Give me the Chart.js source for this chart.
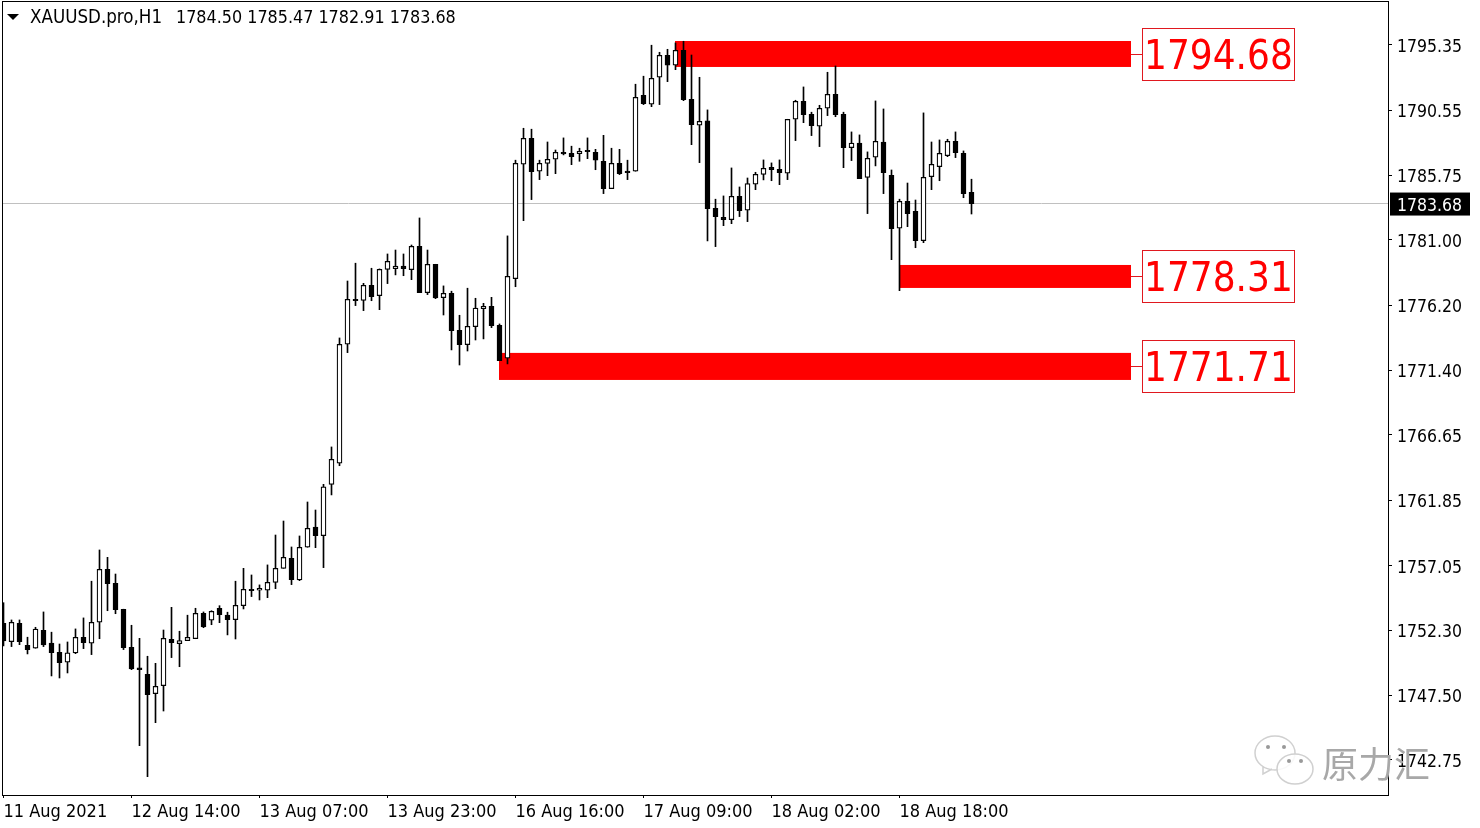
<!DOCTYPE html>
<html>
<head>
<meta charset="utf-8">
<title>XAUUSD.pro,H1</title>
<script src="https://cdn.jsdelivr.net/npm/chart.js@4/dist/chart.umd.min.js"></script>
<style>
  html, body { margin: 0; padding: 0; background: #fff; }
  canvas { display: block; }
</style>
</head>
<body>
<canvas id="chart" width="1480" height="828"></canvas>
<script>
const open = [1752.80,1751.44,1752.80,1751.18,1750.96,1752.28,1751.33,1750.66,1749.93,1750.61,1751.77,1751.33,1752.87,1756.77,1755.74,1753.83,1751.03,1749.51,1749.04,1747.62,1748.21,1751.62,1751.30,1751.52,1751.66,1753.53,1753.02,1753.90,1753.39,1753.06,1754.09,1755.30,1755.23,1755.23,1755.81,1756.84,1757.58,1755.98,1758.39,1759.88,1759.24,1763.02,1764.57,1773.33,1776.64,1776.56,1777.67,1776.90,1778.84,1778.89,1779.07,1778.82,1780.54,1777.12,1779.21,1776.76,1777.08,1774.36,1773.30,1774.62,1775.95,1776.12,1774.72,1772.30,1778.15,1786.57,1788.48,1786.06,1786.64,1786.94,1787.45,1787.38,1787.35,1787.60,1787.45,1786.79,1784.78,1786.64,1786.06,1786.06,1791.65,1790.99,1792.97,1794.59,1793.86,1794.96,1791.35,1789.44,1789.76,1783.33,1782.67,1782.49,1784.22,1783.19,1785.10,1785.83,1786.35,1786.20,1785.91,1789.88,1791.21,1790.25,1789.37,1790.69,1791.72,1790.25,1787.79,1788.12,1785.61,1787.09,1788.21,1785.76,1781.86,1783.85,1783.11,1780.95,1785.66,1786.39,1787.20,1788.26,1787.38,1784.50];
const high = [1754.31,1753.04,1753.04,1751.77,1752.50,1753.63,1752.14,1751.27,1751.42,1752.38,1753.19,1755.89,1758.19,1757.65,1756.42,1753.83,1752.65,1751.69,1750.37,1749.85,1752.30,1753.97,1752.21,1753.39,1753.90,1753.63,1753.72,1754.09,1753.61,1755.89,1756.84,1756.35,1755.62,1757.09,1759.29,1760.32,1758.41,1759.22,1761.72,1761.13,1763.02,1765.77,1773.79,1777.98,1779.29,1777.81,1778.92,1778.87,1779.97,1780.26,1779.97,1780.63,1782.62,1780.26,1779.21,1777.62,1777.23,1775.46,1777.45,1776.71,1776.34,1776.78,1774.82,1781.30,1786.87,1789.22,1789.15,1786.87,1788.21,1787.62,1788.51,1787.90,1787.75,1788.51,1787.67,1788.70,1787.75,1787.67,1786.87,1792.46,1793.05,1795.33,1794.81,1795.03,1795.50,1795.62,1794.61,1792.97,1790.57,1784.00,1784.24,1786.30,1784.90,1785.56,1785.98,1786.89,1786.67,1786.89,1789.88,1791.28,1792.26,1790.40,1790.91,1793.34,1793.80,1790.40,1788.95,1788.73,1787.48,1791.23,1790.64,1786.15,1784.00,1785.19,1783.94,1790.35,1788.21,1788.36,1788.41,1788.95,1787.55,1785.47];
const low = [1751.13,1751.08,1751.22,1750.54,1750.96,1751.08,1748.92,1748.77,1749.14,1750.56,1750.93,1750.49,1751.66,1753.72,1753.50,1750.86,1749.38,1743.79,1741.51,1745.48,1746.34,1750.27,1749.60,1751.52,1751.66,1752.47,1752.69,1752.84,1751.94,1751.64,1753.85,1754.76,1754.51,1754.68,1755.34,1756.84,1755.64,1755.93,1758.39,1758.36,1756.89,1762.24,1764.39,1772.71,1776.17,1775.80,1776.53,1775.87,1777.79,1778.43,1778.37,1778.08,1777.12,1776.98,1776.68,1775.48,1772.91,1771.80,1772.83,1773.64,1773.72,1774.55,1772.12,1771.88,1777.56,1782.42,1783.97,1785.44,1785.73,1785.88,1787.26,1786.54,1786.79,1786.98,1786.17,1784.41,1784.78,1785.81,1785.44,1786.06,1790.96,1790.81,1790.96,1792.65,1793.53,1791.25,1788.01,1786.69,1780.93,1780.51,1782.05,1782.20,1782.72,1782.35,1784.70,1785.42,1785.36,1785.07,1785.44,1788.31,1789.63,1788.68,1787.87,1790.15,1790.07,1786.32,1786.84,1785.51,1782.94,1786.45,1784.41,1779.55,1777.27,1781.98,1780.43,1780.80,1784.70,1785.36,1787.13,1787.06,1784.11,1782.91];
const close = [1751.50,1752.87,1751.44,1750.86,1752.36,1751.20,1750.63,1749.90,1750.63,1751.77,1751.37,1752.87,1756.77,1755.71,1753.80,1751.00,1749.44,1749.38,1747.54,1748.16,1751.69,1751.37,1751.52,1751.77,1753.53,1752.53,1753.68,1753.43,1753.06,1754.12,1755.30,1755.20,1755.37,1755.81,1756.84,1757.65,1756.01,1758.39,1759.79,1759.24,1762.83,1764.86,1773.33,1776.64,1776.53,1777.67,1776.83,1778.84,1779.43,1779.07,1778.89,1780.54,1777.12,1779.21,1776.73,1777.08,1774.33,1773.30,1774.65,1775.98,1776.12,1774.70,1772.12,1778.33,1786.64,1788.48,1786.03,1786.64,1786.94,1787.45,1787.33,1787.13,1787.53,1787.50,1786.87,1784.78,1786.64,1785.88,1785.95,1791.50,1791.03,1792.90,1794.59,1793.86,1794.96,1791.32,1789.48,1789.73,1783.30,1782.72,1782.49,1784.22,1783.16,1785.14,1785.83,1786.28,1786.17,1785.95,1789.88,1791.21,1790.22,1789.41,1790.69,1791.72,1790.22,1787.79,1788.12,1785.51,1787.01,1788.26,1785.95,1781.83,1783.85,1782.94,1780.95,1785.61,1786.57,1787.38,1788.26,1787.42,1784.41,1783.68];

const priceTicks = [1795.35,1790.55,1785.75,1781.00,1776.20,1771.40,1766.65,1761.85,1757.05,1752.30,1747.50,1742.75];
const timeTickIndex = [0,16,32,48,64,80,96,112];
const timeTickLabels = ['11 Aug 2021','12 Aug 14:00','13 Aug 07:00','13 Aug 23:00','16 Aug 16:00','17 Aug 09:00','18 Aug 02:00','18 Aug 18:00'];

const zoneStart = [84,112,62];
const zoneEnd = [141,141,141];
const zoneHigh = [1795.64,1779.16,1772.69];
const zoneLow = [1793.73,1777.47,1770.70];
const zoneLabels = ['1794.68','1778.31','1771.71'];

const symbolText = 'XAUUSD.pro,H1';
const ohlcText = '1784.50 1785.47 1782.91 1783.68';
const lastPrice = 1783.68;
const watermarkText = '原力汇';

const uiFont = '"DejaVu Sans Condensed", "Noto Sans", sans-serif';
const isUp = i => close[i] >= open[i];

// red zones and last price line go under the candles
const underlay = {
    id: 'underlay',
    beforeDatasetsDraw(chart) {
        const { ctx, scales: { x, y }, chartArea } = chart;
        ctx.save();
        const py = Math.floor(y.getPixelForValue(lastPrice)) + 0.5;
        ctx.strokeStyle = '#c0c0c0';
        ctx.lineWidth = 1;
        ctx.beginPath();
        ctx.moveTo(chartArea.left, py);
        ctx.lineTo(chartArea.right, py);
        ctx.stroke();
        ctx.fillStyle = '#ff0000';
        zoneStart.forEach((s, i) => {
            const left = x.getPixelForValue(s) - 0.5;
            const right = x.getPixelForValue(zoneEnd[i]) - 0.5;
            const top = y.getPixelForValue(zoneHigh[i]);
            const bottom = y.getPixelForValue(zoneLow[i]);
            ctx.fillRect(left, top, right - left, bottom - top);
        });
        ctx.restore();
    }
};

// frame, header, price boxes, last price tag, watermark
const overlay = {
    id: 'overlay',
    afterDraw(chart) {
        const { ctx, scales: { x, y } } = chart;
        ctx.save();
        ctx.strokeStyle = '#000';
        ctx.lineWidth = 1;
        ctx.strokeRect(2.5, 1.5, 1386, 794);

        // header
        ctx.fillStyle = '#000';
        ctx.beginPath();
        ctx.moveTo(7, 14);
        ctx.lineTo(19, 14);
        ctx.lineTo(13, 20);
        ctx.closePath();
        ctx.fill();
        ctx.textBaseline = 'middle';
        ctx.textAlign = 'left';
        ctx.font = '18.6px ' + uiFont;
        ctx.fillText(symbolText, 30, 18);
        ctx.font = '17.8px ' + uiFont;
        ctx.fillText(ohlcText, 176, 18);

        // price boxes to the right of each zone
        zoneLabels.forEach((label, i) => {
            const cy = Math.round((y.getPixelForValue(zoneHigh[i]) + y.getPixelForValue(zoneLow[i])) / 2);
            const right = x.getPixelForValue(zoneEnd[i]) - 0.5;
            ctx.strokeStyle = '#e0181f';
            ctx.beginPath();
            ctx.moveTo(right, cy + 0.5);
            ctx.lineTo(1142, cy + 0.5);
            ctx.stroke();
            ctx.strokeRect(1142.5, cy - 25.5, 152, 52);
            ctx.fillStyle = '#ff0000';
            ctx.font = '40px ' + uiFont;
            ctx.fillText(label, 1144, cy + 5);
        });

        // last price tag
        const tagY = y.getPixelForValue(lastPrice);
        ctx.fillStyle = '#000';
        ctx.fillRect(1390, tagY - 11, 80, 23);
        ctx.fillStyle = '#fff';
        ctx.font = '17.5px ' + uiFont;
        ctx.fillText(lastPrice.toFixed(2), 1397, tagY + 3);

        // watermark
        ctx.fillStyle = 'rgba(255,255,255,0.85)';
        ctx.strokeStyle = '#d0d0d0';
        ctx.lineWidth = 1.5;
        ctx.beginPath();
        ctx.ellipse(1275, 753, 20, 17, 0, 0, Math.PI * 2);
        ctx.moveTo(1263, 766);
        ctx.lineTo(1263, 774);
        ctx.lineTo(1272, 769);
        ctx.fill();
        ctx.stroke();
        ctx.beginPath();
        ctx.ellipse(1295, 769, 18, 15, 0, 0, Math.PI * 2);
        ctx.fill();
        ctx.stroke();
        ctx.fillStyle = '#999';
        [[1268, 747], [1284, 747], [1289, 761], [1301, 761]].forEach(p => {
            ctx.beginPath();
            ctx.arc(p[0], p[1], 2, 0, Math.PI * 2);
            ctx.fill();
        });
        ctx.fillStyle = '#a8a8a8';
        ctx.font = '36px "Noto Sans CJK SC", sans-serif';
        ctx.fillText(watermarkText, 1322, 764);
        ctx.restore();
    }
};

const wickData = low.map((v, i) => ({ x: i, y: [v, high[i]] }));
const bodyData = open.map((v, i) => ({ x: i, y: [Math.min(v, close[i]), Math.max(v, close[i])] }));

new Chart(document.getElementById('chart'), {
    type: 'bar',
    data: {
        datasets: [
            {
                data: bodyData,
                order: 1,
                grouped: false,
                barThickness: 5,
                borderWidth: 1.25,
                borderSkipped: false,
                borderColor: '#000',
                backgroundColor: ctx => isUp(ctx.dataIndex) ? '#fff' : '#000'
            },
            {
                data: wickData,
                order: 2,
                grouped: false,
                barThickness: 1,
                borderWidth: 0,
                backgroundColor: '#000'
            }
        ]
    },
    options: {
        responsive: false,
        animation: false,
        layout: { autoPadding: false, padding: { left: 2, top: 2, right: 0, bottom: 0 } },
        plugins: { legend: { display: false }, tooltip: { enabled: false } },
        scales: {
            x: {
                type: 'linear',
                offset: false,
                min: -0.1875,
                max: 173.0625,
                // no extra room for tick labels, the plot edges are fixed
                afterFit: s => { s.height = 33; s.paddingLeft = 0; s.paddingRight = 0; },
                afterBuildTicks: s => { s.ticks = timeTickIndex.map(v => ({ value: v })); },
                grid: { offset: false, drawOnChartArea: false, drawTicks: true, tickLength: 3, color: '#000' },
                border: { display: false },
                ticks: {
                    autoSkip: false,
                    maxRotation: 0,
                    align: 'start',
                    padding: 4,
                    color: '#000',
                    font: { family: uiFont, size: 18 },
                    callback: v => timeTickLabels[timeTickIndex.indexOf(v)]
                }
            },
            y: {
                position: 'right',
                min: 1740.16,
                max: 1798.51,
                afterFit: s => { s.width = 92; s.paddingTop = 0; s.paddingBottom = 0; },
                afterBuildTicks: s => { s.ticks = priceTicks.map(v => ({ value: v })); },
                grid: { drawOnChartArea: false, drawTicks: true, tickLength: 4, color: '#000' },
                border: { display: false },
                ticks: {
                    autoSkip: false,
                    padding: 5,
                    labelOffset: 2.5,
                    color: '#000',
                    font: { family: uiFont, size: 17.5 },
                    callback: v => v.toFixed(2)
                }
            }
        }
    },
    plugins: [underlay, overlay]
});
</script>
</body>
</html>
